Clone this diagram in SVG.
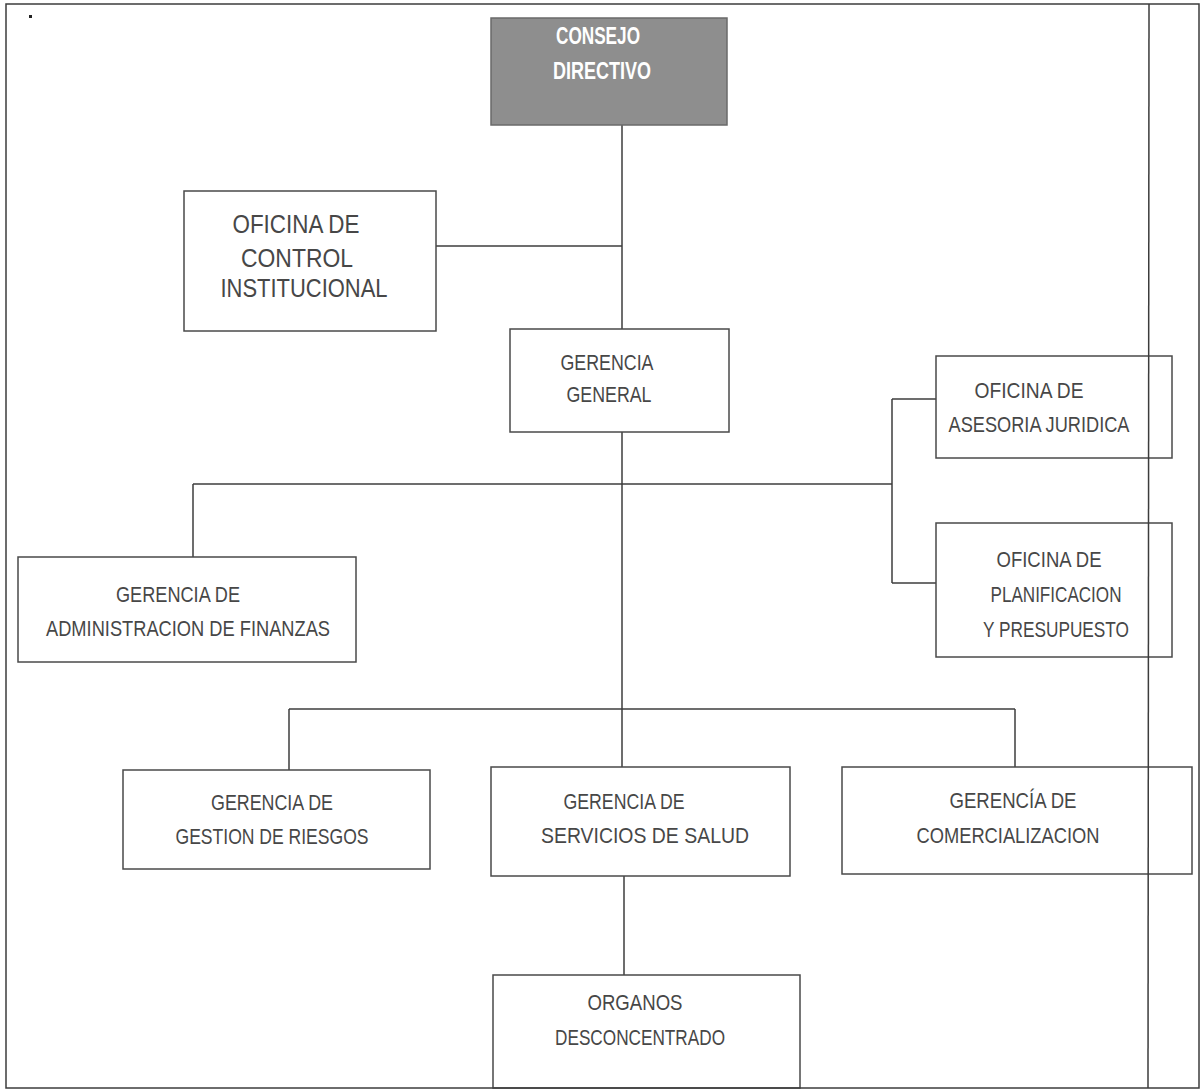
<svg xmlns="http://www.w3.org/2000/svg" width="1201" height="1090" viewBox="0 0 1201 1090">
<style>
.box{fill:#ffffff;stroke:#4a4a4a;stroke-width:1.5}
.t{font-family:"Liberation Sans",Arial,sans-serif;font-size:22px;fill:#474747;text-anchor:middle}
.tn{font-family:"Liberation Sans",Arial,sans-serif;font-size:25px;fill:#474747;text-anchor:middle}
.tw{font-family:"Liberation Sans",Arial,sans-serif;font-size:23px;font-weight:bold;fill:#ffffff;text-anchor:middle}
.ln{fill:none;stroke:#3c3c3c;stroke-width:1.5}
</style>
<rect x="0" y="0" width="1201" height="1090" fill="#ffffff"/>
<rect x="29" y="15" width="3" height="3" fill="#222"/>
<g id="connectors" class="ln">
<line x1="622" y1="125" x2="622" y2="329"/>
<line x1="436" y1="246" x2="622" y2="246"/>
<line x1="622" y1="432" x2="622" y2="767"/>
<line x1="193" y1="484" x2="892" y2="484"/>
<line x1="892" y1="399" x2="892" y2="583"/>
<line x1="892" y1="399" x2="936" y2="399"/>
<line x1="892" y1="583" x2="936" y2="583"/>
<line x1="193" y1="484" x2="193" y2="557"/>
<line x1="289" y1="709" x2="1015" y2="709"/>
<line x1="289" y1="709" x2="289" y2="770"/>
<line x1="1015" y1="709" x2="1015" y2="767"/>
<line x1="624" y1="876" x2="624" y2="975"/>
</g>
<g id="consejo">
<rect x="491" y="18" width="236" height="107" fill="#8e8e8e" stroke="#6a6a6a" stroke-width="1.5"/>
<text class="tw" x="598" y="44" textLength="84" lengthAdjust="spacingAndGlyphs">CONSEJO</text>
<text class="tw" x="602" y="79" textLength="98" lengthAdjust="spacingAndGlyphs">DIRECTIVO</text>
</g>
<g id="control">
<rect class="box" x="184" y="191" width="252" height="140"/>
<text class="tn" x="296" y="233" textLength="127" lengthAdjust="spacingAndGlyphs">OFICINA DE</text>
<text class="tn" x="297" y="267" textLength="112" lengthAdjust="spacingAndGlyphs">CONTROL</text>
<text class="tn" x="304" y="297" textLength="167" lengthAdjust="spacingAndGlyphs">INSTITUCIONAL</text>
</g>
<g id="gerencia-general">
<rect class="box" x="510" y="329" width="219" height="103"/>
<text class="t" x="607" y="370" textLength="93" lengthAdjust="spacingAndGlyphs">GERENCIA</text>
<text class="t" x="609" y="402" textLength="85" lengthAdjust="spacingAndGlyphs">GENERAL</text>
</g>
<g id="asesoria">
<rect class="box" x="936" y="356" width="236" height="102"/>
<text class="t" x="1029" y="398" textLength="109" lengthAdjust="spacingAndGlyphs">OFICINA  DE</text>
<text class="t" x="1039" y="432" textLength="181" lengthAdjust="spacingAndGlyphs">ASESORIA JURIDICA</text>
</g>
<g id="planificacion">
<rect class="box" x="936" y="523" width="236" height="134"/>
<text class="t" x="1049" y="567" textLength="105" lengthAdjust="spacingAndGlyphs">OFICINA DE</text>
<text class="t" x="1056" y="602" textLength="131" lengthAdjust="spacingAndGlyphs">PLANIFICACION</text>
<text class="t" x="1056" y="637" textLength="146" lengthAdjust="spacingAndGlyphs">Y PRESUPUESTO</text>
</g>
<g id="finanzas">
<rect class="box" x="18" y="557" width="338" height="105"/>
<text class="t" x="178" y="602" textLength="124" lengthAdjust="spacingAndGlyphs">GERENCIA  DE</text>
<text class="t" x="188" y="636" textLength="284" lengthAdjust="spacingAndGlyphs">ADMINISTRACION DE FINANZAS</text>
</g>
<g id="riesgos">
<rect class="box" x="123" y="770" width="307" height="99"/>
<text class="t" x="272" y="810" textLength="122" lengthAdjust="spacingAndGlyphs">GERENCIA DE</text>
<text class="t" x="272" y="844" textLength="193" lengthAdjust="spacingAndGlyphs">GESTION DE RIESGOS</text>
</g>
<g id="salud">
<rect class="box" x="491" y="767" width="299" height="109"/>
<text class="t" x="624" y="809" textLength="121" lengthAdjust="spacingAndGlyphs">GERENCIA DE</text>
<text class="t" x="645" y="843" textLength="208" lengthAdjust="spacingAndGlyphs">SERVICIOS DE SALUD</text>
</g>
<g id="comercializacion">
<rect class="box" x="842" y="767" width="350" height="107"/>
<text class="t" x="1013" y="808" textLength="127" lengthAdjust="spacingAndGlyphs">GERENCÍA DE</text>
<text class="t" x="1008" y="843" textLength="183" lengthAdjust="spacingAndGlyphs">COMERCIALIZACION</text>
</g>
<g id="organos">
<rect class="box" x="493" y="975" width="307" height="113"/>
<text class="t" x="635" y="1010" textLength="95" lengthAdjust="spacingAndGlyphs">ORGANOS</text>
<text class="t" x="640" y="1045" textLength="170" lengthAdjust="spacingAndGlyphs">DESCONCENTRADO</text>
</g>
<g id="frame" class="ln">
<rect x="6" y="4" width="1193" height="1084"/>
<line x1="1149" y1="4" x2="1148" y2="1088"/>
</g>
</svg>
